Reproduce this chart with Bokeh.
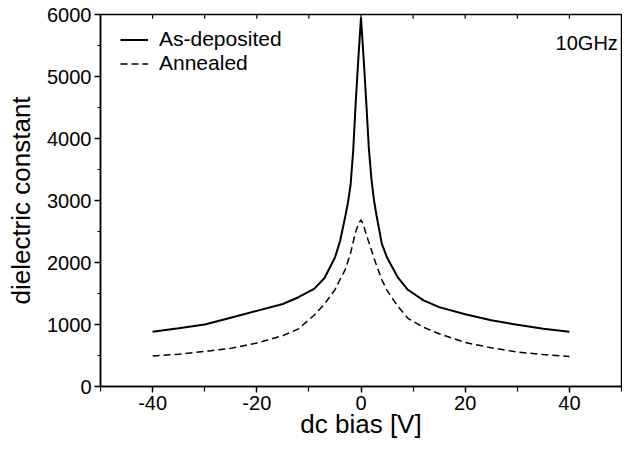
from bokeh.plotting import figure
from bokeh.models import Range1d, FixedTicker, Legend, LegendItem, Label
from bokeh.embed import file_html
from bokeh.resources import INLINE

# ---- data ----
bias = [-40, -35, -30, -25, -20, -15, -12, -9, -7, -5, -4, -3, -2.5, -2, -1.5, -1, -0.5, 0,
        0.5, 1, 1.5, 2, 2.5, 3, 4, 5, 7, 9, 12, 15, 20, 25, 30, 35, 40]
as_deposited = [882, 940, 1000, 1110, 1220, 1330, 1440, 1575, 1750, 2080, 2350, 2750,
                2970, 3250, 3800, 4600, 5300, 5950,
                5300, 4600, 3850, 3350, 3000, 2750, 2300, 2080, 1770, 1560, 1390, 1280, 1165,
                1070, 995, 930, 882]
annealed = [490, 520, 565, 615, 700, 820, 930, 1150, 1330, 1560, 1730, 1890,
            2020, 2150, 2330, 2500, 2620, 2690,
            2600, 2450, 2330, 2200, 2070, 1950, 1720, 1550, 1300, 1100, 955, 850, 710,
            625, 555, 515, 485]

x_major = [-40, -20, 0, 20, 40]
x_labels = ["-40", "-20", "0", "20", "40"]
x_minor = [-50, -30, -10, 10, 30, 50]
x_top = [-40, -30, -20, -10, 0, 10, 20, 30, 40]
y_major = [0, 1000, 2000, 3000, 4000, 5000, 6000]
y_minor = [500, 1500, 2500, 3500, 4500, 5500]
y_max = 6000
top_tick_len = 70  # in data units (short inward ticks at the top edge)
series_names = ["As-deposited", "Annealed"]
freq_label = "10GHz"

FONT = "Liberation Sans"

p = figure(width=622, height=441, output_backend="svg", toolbar_location=None,
           x_range=Range1d(-50, 50), y_range=Range1d(0, y_max),
           min_border_left=100, min_border_right=1, min_border_top=14,
           min_border_bottom=50)
p.background_fill_color = "white"
p.border_fill_color = "white"
p.outline_line_color = "black"
p.outline_line_width = 1.5
p.xgrid.visible = False
p.ygrid.visible = False

r1 = p.line(bias, as_deposited, line_color="black", line_width=2)
r2 = p.line(bias, annealed, line_color="black", line_width=1.5, line_dash="7 4")

p.segment(x0=x_top, y0=[y_max] * len(x_top), x1=x_top,
          y1=[y_max - top_tick_len] * len(x_top), line_color="black", line_width=1.2)

xa = p.xaxis[0]
xa.ticker = FixedTicker(ticks=x_major, minor_ticks=x_minor)
xa.major_label_overrides = {t: s for t, s in zip(x_major, x_labels)}
xa.axis_label = "dc bias [V]"
ya = p.yaxis[0]
ya.ticker = FixedTicker(ticks=y_major, minor_ticks=y_minor)
ya.axis_label = "dielectric constant"
for ax in (xa, ya):
    ax.axis_line_color = "black"
    ax.axis_line_width = 1.5
    ax.major_tick_line_color = "black"
    ax.major_tick_line_width = 1.5
    ax.minor_tick_line_color = "black"
    ax.minor_tick_line_width = 1.2
    ax.major_tick_in = 0
    ax.major_tick_out = 6
    ax.minor_tick_in = 0
    ax.major_label_text_font = FONT
    ax.major_label_text_font_size = "20px"
    ax.major_label_text_color = "black"
    ax.axis_label_text_font = FONT
    ax.axis_label_text_font_size = "26px"
    ax.axis_label_text_font_style = "normal"
    ax.axis_label_text_color = "black"
    ax.axis_label_text_line_height = 1.0
    ax.major_label_text_line_height = 1.0
xa.minor_tick_out = 5
ya.minor_tick_out = 3
xa.major_label_standoff = 3
xa.axis_label_standoff = -4
ya.major_label_standoff = 3
ya.axis_label_standoff = 8

legend = Legend(items=[LegendItem(label=series_names[0], renderers=[r1]),
                       LegendItem(label=series_names[1], renderers=[r2])],
                location=(20, 311), orientation="vertical",
                border_line_color=None, background_fill_alpha=0,
                padding=0, margin=0, spacing=0,
                glyph_width=28, glyph_height=21, label_height=21,
                label_standoff=11,
                label_text_font=FONT, label_text_font_size="21px",
                label_text_line_height=1.0,
                label_text_color="black")
p.add_layout(legend)

p.add_layout(Label(x=49.3, y=5360, text=freq_label, text_align="right",
                   text_font=FONT, text_font_size="20px", text_color="black"))

open("out.html", "w").write(file_html(p, INLINE))
